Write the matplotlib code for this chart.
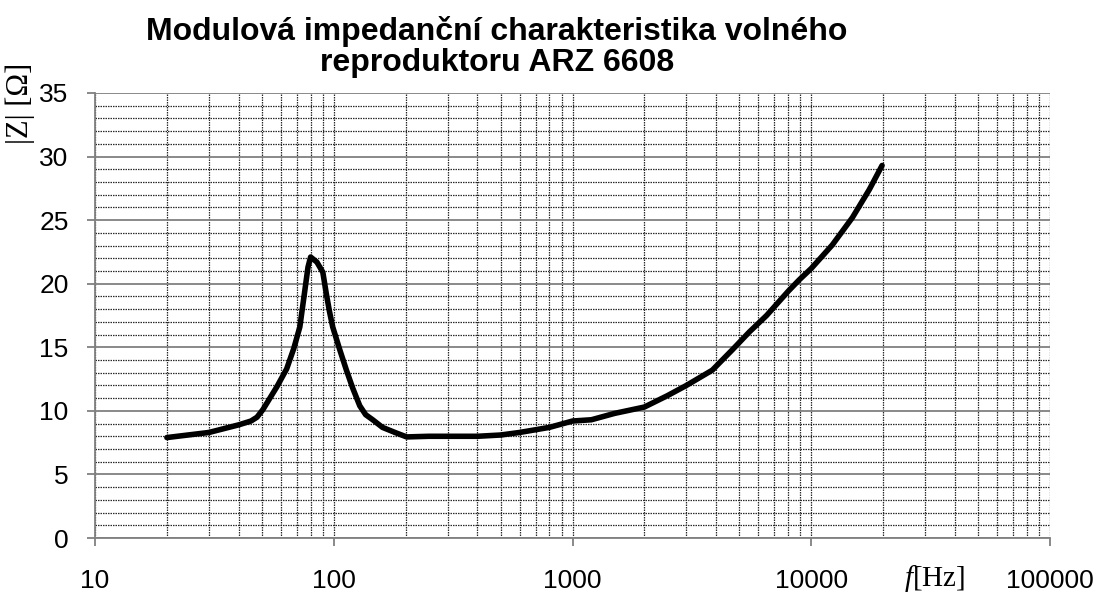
import numpy as np
import matplotlib.pyplot as plt
from matplotlib.ticker import FixedLocator, NullFormatter

plt.rcParams['mathtext.fontset'] = 'custom'
plt.rcParams['mathtext.it'] = 'Liberation Serif:italic'
plt.rcParams['mathtext.rm'] = 'Liberation Serif'

# impedance curve
freq = [20, 30, 40, 45, 47.7, 50.5, 57.8, 63.5, 68, 72.1, 75.7, 78, 80, 85, 90, 93.1, 96,
        99, 106, 113, 120, 128.5, 136, 145.6, 160, 182.8, 202,
        250, 300, 400, 500, 600, 800, 1000, 1200, 1500, 2000, 2500, 3000, 3850, 4670,
        5500, 6500, 8000, 8900, 10000, 12250, 14870, 17500, 19800]
z_mod = [7.9, 8.3, 8.9, 9.2, 9.5, 10.1, 11.9, 13.3, 14.9, 16.6, 19.5, 21.3, 22.1, 21.7,
         20.9, 19.2, 17.8, 16.6, 14.8, 13.2, 11.8, 10.4, 9.7, 9.3, 8.7, 8.26, 7.95,
         8.0, 8.0, 8.0, 8.1, 8.3, 8.7, 9.2, 9.3, 9.8, 10.3, 11.2,
         12.0, 13.2, 14.8, 16.2, 17.5, 19.4, 20.3, 21.2, 23.05, 25.2, 27.4, 29.3]

x_ticks = [10, 100, 1000, 10000, 100000]
x_labels = ['10', '100', '1000', '10000', '100000']
y_ticks = [0, 5, 10, 15, 20, 25, 30, 35]

fig = plt.figure(figsize=(11.03, 5.98), dpi=100)
ax = fig.add_axes([95 / 1103, (598 - 538) / 598, (1050 - 95) / 1103, (538 - 93) / 598])

ax.set_xscale('log')
ax.set_xlim(10, 100000)
ax.set_ylim(0, 35)

# grid
minor_x = [m * 10 ** d for d in range(1, 5) for m in range(2, 10)]
ax.xaxis.set_major_locator(FixedLocator(x_ticks))
ax.xaxis.set_minor_locator(FixedLocator(minor_x))
ax.xaxis.set_minor_formatter(NullFormatter())
ax.set_xticklabels(x_labels)
ax.yaxis.set_major_locator(FixedLocator(y_ticks))
ax.yaxis.set_minor_locator(FixedLocator([v for v in range(36) if v % 5]))

dots = (0, (1.2, 0.8))
ax.grid(axis='x', which='both', color='#2a2a2a', linestyle=dots, linewidth=0.9)
ax.grid(axis='y', which='major', color='#808080', linestyle='-', linewidth=1.3)
ax.grid(axis='y', which='minor', color='#2a2a2a', linestyle=dots, linewidth=0.9)
ax.set_axisbelow(True)

for s in ['top', 'right']:
    ax.spines[s].set_visible(False)
for s in ['left', 'bottom']:
    ax.spines[s].set_color('#808080')
    ax.spines[s].set_linewidth(1.3)

ax.tick_params(which='major', length=6, width=1.3, color='#808080', labelsize=19)
ax.tick_params(which='minor', length=0)
ax.tick_params(axis='y', pad=13)
ax.tick_params(axis='x', pad=16)
for lab in ax.get_xticklabels() + ax.get_yticklabels():
    lab.set_fontfamily('Liberation Sans')

ax.plot(freq, z_mod, color='black', linewidth=4, solid_capstyle='round',
        solid_joinstyle='round', clip_on=False, zorder=5)

fig.text(497 / 1103, 1 - 47 / 598, 'Modulová impedanční charakteristika volného\nreproduktoru ARZ 6608',
         ha='center', va='center', fontsize=23, fontweight='bold',
         family='Liberation Sans', linespacing=1.08)

fig.text(20 / 1103, 1 - 103 / 598, '|Z| [Ω]', rotation=90, ha='center', va='center',
         fontsize=22, family='Liberation Serif')
fig.text(935 / 1103, 1 - 578 / 598, r'$\mathit{f}$[Hz]', ha='center', va='center',
         fontsize=21, family='Liberation Serif')

fig.savefig('out.png', dpi=100)
